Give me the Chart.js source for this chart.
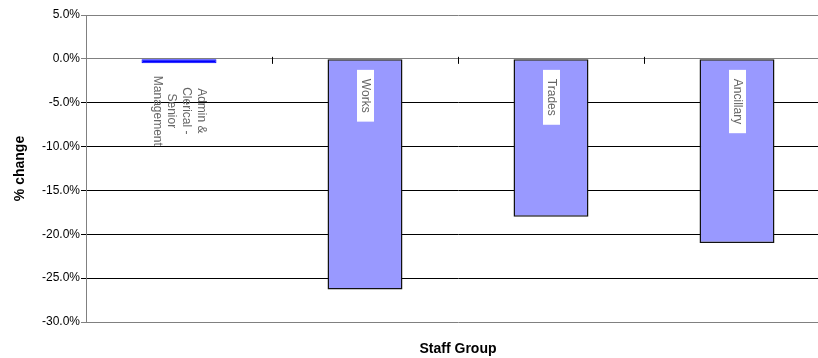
<!DOCTYPE html>
<html>
<head>
<meta charset="utf-8">
<script src="https://cdn.jsdelivr.net/npm/chart.js@4"></script>
<style>
  html, body { margin: 0; padding: 0; background: #fff; overflow: hidden; }
  #wrap { width: 818px; height: 358px; overflow: hidden; }
</style>
</head>
<body>
<div id="wrap"><canvas id="chart" width="832" height="358"></canvas></div>
<script>
const staffGroups = ["Admin & Clerical - Senior Management", "Works", "Trades", "Ancillary"];
const groupLabelLines = [["Admin &", "Clerical -", "Senior", "Management"], ["Works"], ["Trades"], ["Ancillary"]];
const percentChange = [-0.5, -26.3, -18.0, -21.0];
const yTicks = [5, 0, -5, -10, -15, -20, -25, -30];

const ctx = document.getElementById("chart").getContext("2d");
const FONT = "'Liberation Sans', Arial, sans-serif";

// labels written sideways inside the bars, plus the small category ticks on the zero line
const barLabels = {
    id: "barLabels",
    afterDatasetsDraw(chart) {
        const c = chart.ctx;
        const xs = chart.scales.x;
        const ys = chart.scales.y;
        const y0 = ys.getPixelForValue(0);

        c.save();
        c.strokeStyle = "#000";
        c.lineWidth = 1;
        for (let i = 0; i < staffGroups.length - 1; i++) {
            const x = Math.round((xs.getPixelForValue(i) + xs.getPixelForValue(i + 1)) / 2) + 0.5;
            c.beginPath();
            c.moveTo(x, y0 - 2);
            c.lineTo(x, y0 + 5);
            c.stroke();
        }

        const meta = chart.getDatasetMeta(0);
        c.font = "12px " + FONT;
        c.textAlign = "center";
        c.textBaseline = "middle";
        meta.data.forEach((bar, i) => {
            const lines = groupLabelLines[i];
            const lineH = 14.7;
            const widest = Math.max(...lines.map(l => c.measureText(l).width));
            const top = y0 + 11;
            const cy = lines.length > 1 ? y0 + 52 : top + widest / 2 + 9;
            if (lines.length === 1) {
                c.fillStyle = "#fff";
                c.fillRect(bar.x - 8, top, 17, widest + 18);
            }
            c.save();
            c.translate(bar.x, cy);
            c.rotate(Math.PI / 2);
            c.fillStyle = "#666";
            lines.forEach((l, k) => {
                const off = (k - (lines.length - 1) / 2) * lineH;
                c.fillText(l, 0, off);
            });
            c.restore();
        });
        c.restore();
    }
};

new Chart(ctx, {
    type: "bar",
    data: {
        labels: staffGroups,
        datasets: [{
            data: percentChange,
            backgroundColor: ["#0000ff", "#9999ff", "#9999ff", "#9999ff"],
            borderColor: ["#0000ff", "#111", "#111", "#111"],
            borderWidth: [1, 1.5, 1.5, 1.5],
            borderSkipped: false,
            categoryPercentage: 1,
            barPercentage: 0.403
        }]
    },
    options: {
        responsive: false,
        animation: false,
        layout: { padding: { top: 15, right: 2, left: 0, bottom: 0 } },
        plugins: { legend: { display: false }, tooltip: { enabled: false } },
        scales: {
            x: {
                grid: { display: false, drawTicks: false },
                border: { display: false },
                ticks: { display: false },
                title: {
                    display: true,
                    text: "Staff Group",
                    color: "#000",
                    font: { family: FONT, size: 14, weight: "bold" },
                    padding: { top: 18, bottom: 0 }
                },
                afterFit(scale) { scale.height = 36; }
            },
            y: {
                min: -30,
                max: 5,
                afterBuildTicks(scale) { scale.ticks = yTicks.map(v => ({ value: v })); },
                ticks: {
                    color: "#000",
                    padding: 1,
                    font: { family: FONT, size: 12 },
                    callback: v => v.toFixed(1) + "%"
                },
                grid: {
                    color: ctx => (ctx.tick && (ctx.tick.value === 0 || ctx.tick.value === 5 || ctx.tick.value === -30)) ? "#808080" : "#000",
                    lineWidth: 1,
                    tickLength: 5
                },
                border: { display: true, color: "#808080", width: 1 },
                title: {
                    display: true,
                    text: "% change",
                    color: "#000",
                    font: { family: FONT, size: 14, weight: "bold" },
                    padding: { top: 12, bottom: 4 }
                },
                afterFit(scale) { scale.width = 86; }
            }
        }
    },
    plugins: [barLabels]
});
</script>
</body>
</html>
